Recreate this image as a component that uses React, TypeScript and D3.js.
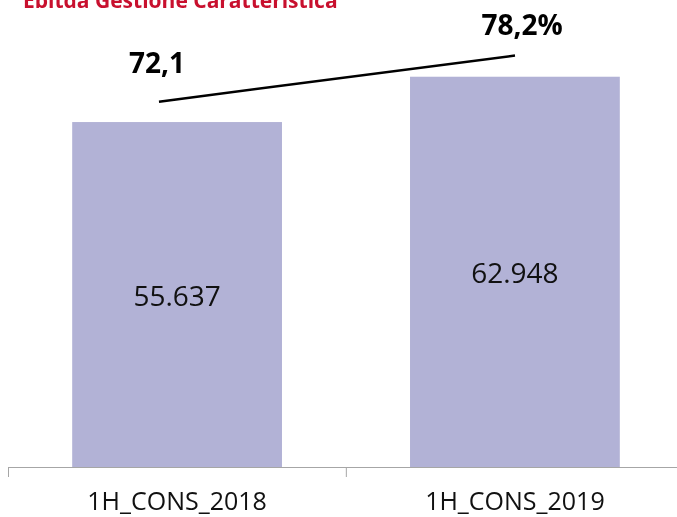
import React, { useEffect, useRef } from "react";
import * as d3 from "d3";

// chart data
const categories = ["1H_CONS_2018", "1H_CONS_2019"];
const ebitdaValues = [55637, 62948];
const marginValues = [72.1, 78.2];
const marginLabels = ["72,1", "78,2%"];
const titleText = "Ebitda Gestione Caratteristica";

export default function App() {
    const svgRef = useRef<SVGSVGElement | null>(null);

    useEffect(() => {
        const width = 677;
        const height = 517;
        const baseline = 467;
        const font = "'Open Sans', sans-serif";

        const svg = d3.select(svgRef.current);
        svg.selectAll("*").remove();
        svg.attr("width", width).attr("height", height);

        // italian number format
        const it = d3.formatLocale({
            decimal: ",",
            thousands: ".",
            grouping: [3],
            currency: ["€", ""],
        });
        const fmt = it.format(",d");

        //category scale, second band runs past the right edge
        const x = d3.scaleBand<string>()
            .domain(categories)
            .range([8, 684])
            .paddingInner(0.379)
            .paddingOuter(0.19);

        const y = d3.scaleLinear().domain([0, 70000]).range([baseline, 33]);

        //secondary scale for the margin line
        const xLine = d3.scalePoint<string>().domain(categories).range([159, 515]);
        const y2 = d3.scaleLinear().domain([60, 80]).range([193, 42]);

        //title, clipped at the top like the original
        svg.append("text")
            .attr("x", 23)
            .attr("y", 8)
            .attr("font-family", font)
            .attr("font-weight", 700)
            .attr("font-size", 21)
            .attr("fill", "#c8102e")
            .text(titleText);

        //bars
        svg.append("g")
            .selectAll("rect")
            .data(ebitdaValues)
            .join("rect")
            .attr("x", (_, i) => x(categories[i])!)
            .attr("y", (d) => y(d))
            .attr("width", x.bandwidth())
            .attr("height", (d) => baseline - y(d))
            .attr("fill", "#b2b2d6");

        //bar labels
        svg.append("g")
            .selectAll("text")
            .data(ebitdaValues)
            .join("text")
            .attr("x", (_, i) => x(categories[i])! + x.bandwidth() / 2)
            .attr("y", (d) => (y(d) + baseline) / 2 + 11)
            .attr("text-anchor", "middle")
            .attr("font-family", font)
            .attr("font-size", 28)
            .attr("fill", "#111")
            .text((d) => fmt(d));

        //x axis line and ticks
        const axis = svg.append("g").attr("stroke", "#a6a6a6").attr("stroke-width", 1);
        axis.append("line")
            .attr("x1", 8)
            .attr("x2", width)
            .attr("y1", baseline + 0.5)
            .attr("y2", baseline + 0.5);
        const step = x.step();
        const start = x.range()[0];
        axis.selectAll("line.tick")
            .data(d3.range(categories.length + 1))
            .join("line")
            .attr("class", "tick")
            .attr("x1", (i) => start + i * step + 0.5)
            .attr("x2", (i) => start + i * step + 0.5)
            .attr("y1", baseline)
            .attr("y2", baseline + 10);

        //category labels
        svg.append("g")
            .selectAll("text")
            .data(categories)
            .join("text")
            .attr("x", (d) => x(d)! + x.bandwidth() / 2)
            .attr("y", 510)
            .attr("text-anchor", "middle")
            .attr("font-family", font)
            .attr("font-size", 25)
            .attr("fill", "#111")
            .text((d) => d);

        //margin line
        const line = d3.line<number>()
            .x((_, i) => xLine(categories[i])!)
            .y((d) => y2(d));
        svg.append("path")
            .datum(marginValues)
            .attr("d", line)
            .attr("fill", "none")
            .attr("stroke", "#000")
            .attr("stroke-width", 2.5);

        //margin labels
        svg.append("g")
            .selectAll("text")
            .data(marginValues)
            .join("text")
            .attr("x", (_, i) => xLine(categories[i])! + (i === 0 ? -2 : 7))
            .attr("y", (d, i) => y2(d) - (i === 0 ? 29 : 21))
            .attr("text-anchor", "middle")
            .attr("font-family", font)
            .attr("font-weight", 700)
            .attr("font-size", 28)
            .attr("fill", "#000")
            .text((_, i) => marginLabels[i]);
    }, []);

    return (
        <div>
            {/* chart */}
            <svg ref={svgRef} style={{ position: "fixed", left: 0, top: 0 }}></svg>
        </div>
    );
}
